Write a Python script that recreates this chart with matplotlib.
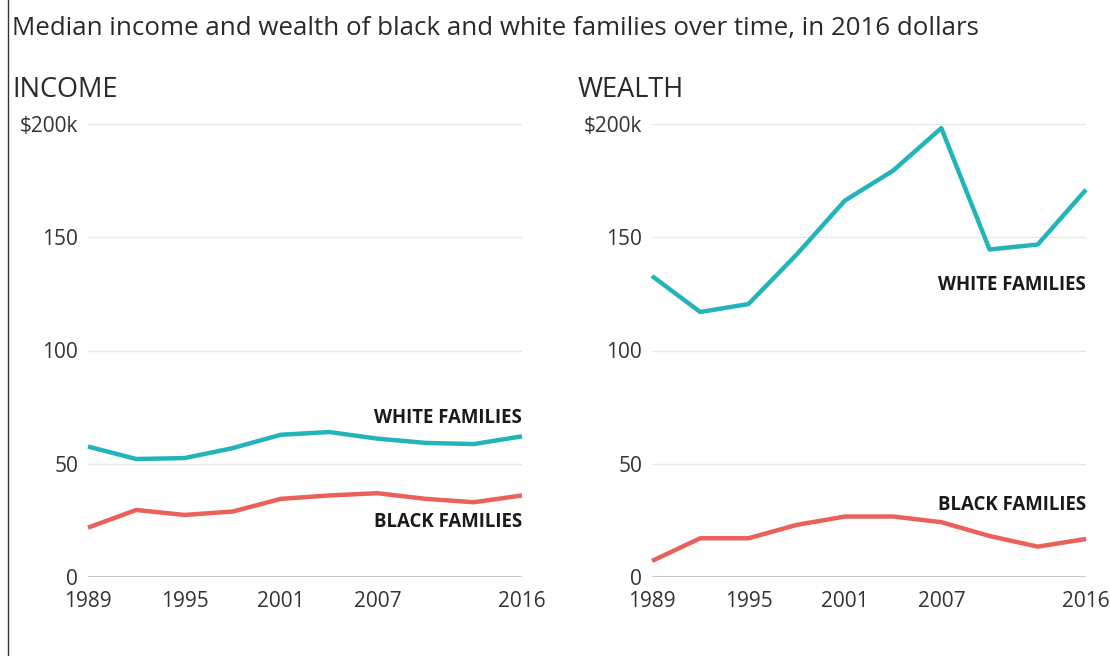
import matplotlib
matplotlib.use('Agg')
import matplotlib.pyplot as plt
from matplotlib.lines import Line2D

plt.rcParams['font.family'] = ['Open Sans', 'DejaVu Sans']

# survey years and medians in thousands of 2016 dollars
years = [1989, 1992, 1995, 1998, 2001, 2004, 2007, 2010, 2013, 2016]
income_white = [57.6, 52.1, 52.5, 56.9, 62.8, 64.0, 61.1, 59.2, 58.7, 62.1]
income_black = [21.8, 29.6, 27.4, 28.9, 34.5, 36.0, 37.0, 34.5, 33.0, 36.0]
wealth_white = [132.9, 117.0, 120.5, 142.4, 166.2, 179.4, 198.2, 144.6, 146.8, 171.0]
wealth_black = [7.1, 17.1, 17.1, 23.0, 26.7, 26.7, 24.2, 18.1, 13.4, 16.8]

year_ticks = [1989, 1995, 2001, 2007, 2016]
value_ticks = [0, 50, 100, 150, 200]
value_labels = ['0', '50', '100', '150', '$200k']

TEAL = '#22b4b9'
CORAL = '#ea605b'
TEXT = '#2a2a2a'

fig = plt.figure(figsize=(11.1, 6.56), dpi=100)
fig.patch.set_facecolor('white')

# thin rule down the left edge
fig.add_artist(Line2D([8 / 1110, 8 / 1110], [0, 1], color='#333333', lw=1.0,
                      transform=fig.transFigure))

fig.text(12 / 1110, 1 - 28 / 656, 'Median income and wealth of black and white families over time, in 2016 dollars',
         fontsize=18.6, color=TEXT, ha='left', va='center')

panels = [
    ('INCOME', 88, 12, income_white, income_black, (70.2, 24.3)),
    ('WEALTH', 652, 578, wealth_white, wealth_black, (129.0, 31.8)),
]

for name, left_px, title_px, white, black, label_y in panels:
    ax = fig.add_axes([left_px / 1110, 1 - 577 / 656, 434 / 1110, 453 / 656])
    ax.set_xlim(1989, 2016)
    ax.set_ylim(0, 200)
    for s in ax.spines.values():
        s.set_visible(False)

    for v in value_ticks:
        ax.axhline(v, color='#bdbdbd' if v == 0 else '#e8e8e8',
                   lw=1.2 if v == 0 else 1.0, zorder=1)

    ax.plot(years, white, color=TEAL, lw=3.2, solid_capstyle='butt',
            solid_joinstyle='round', zorder=3, clip_on=False)
    ax.plot(years, black, color=CORAL, lw=3.2, solid_capstyle='butt',
            solid_joinstyle='round', zorder=3, clip_on=False)

    ax.text(2016, label_y[0], 'WHITE FAMILIES', ha='right', va='center',
            fontsize=13.4, fontweight='bold', color='#1a1a1a')
    ax.text(2016, label_y[1], 'BLACK FAMILIES', ha='right', va='center',
            fontsize=13.4, fontweight='bold', color='#1a1a1a')

    ax.set_xticks(year_ticks)
    ax.set_yticks(value_ticks)
    ax.set_yticklabels(value_labels)
    ax.tick_params(axis='both', length=0, labelsize=15, labelcolor='#333333')
    ax.tick_params(axis='y', pad=7)
    ax.tick_params(axis='x', pad=10)

    fig.text(title_px / 1110, 1 - 90 / 656, name, fontsize=19.5, color=TEXT,
             ha='left', va='center')

fig.savefig('out.png', dpi=100, facecolor='white')
